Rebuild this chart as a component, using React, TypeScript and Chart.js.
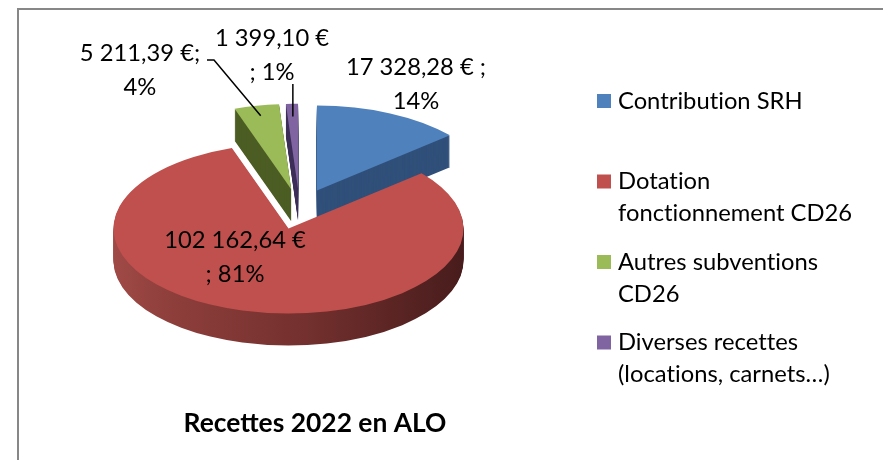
import React, { useEffect, useRef } from 'react';
import { Chart, registerables } from 'chart.js';

Chart.register(...registerables);

// ---------- data ----------
const categories: string[][] = [
  ['Contribution SRH'],
  ['Dotation', 'fonctionnement CD26'],
  ['Autres subventions', 'CD26'],
  ['Diverses recettes', '(locations, carnets…)'],
];
const values: number[] = [17328.28, 102162.64, 5211.39, 1399.1];
const valueLabels: string[][] = [
  ['17 328,28 € ;', '14%'],
  ['102 162,64 €', '; 81%'],
  ['5 211,39 €;', '4%'],
  ['1 399,10 €', '; 1%'],
];
const chartTitle = 'Recettes 2022 en ALO';

// ---------- styles ----------
const topColors = ['#4f81bd', '#c0504d', '#9bbb59', '#8064a2'];
const sideColors = ['#30507a', 'gradient', '#4c5d24', '#3e3059'];
const FONT = 'Lato, "Open Sans", sans-serif';

// projection of the pie (screen space)
const CX = 299.5;
const CY = 209;
const RX = 175;
const RY = 85;
const EXPLODE = 41.7;
const DEPTH = 32;

// label layout (first line centre) and line height
const labelPos: number[][] = [
  [416, 67],
  [235, 240],
  [140, 53],
  [272, 38],
];
const LABEL_LH = 34;

function fitSize(text: string, weight: string, target: number) {
  const c = document.createElement('canvas').getContext('2d')!;
  c.font = `${weight} 100px ${FONT}`;
  return (100 * target) / c.measureText(text).width;
}

function geom(arc: any) {
  const p = arc.getProps(['x', 'y', 'startAngle', 'endAngle', 'outerRadius'], true);
  const mid = (p.startAngle + p.endAngle) / 2;
  const sx = RX / p.outerRadius;
  const sy = RY / p.outerRadius;
  const ox = CX + EXPLODE * Math.cos(mid);
  const oy = CY + EXPLODE * (RY / RX) * Math.sin(mid);
  return { p, mid, sx, sy, ox, oy };
}

function drawSlice(ctx: CanvasRenderingContext2D, arc: any, fill: any, dy: number) {
  const { p, sx, sy, ox, oy } = geom(arc);
  ctx.save();
  ctx.translate(ox, oy + dy);
  ctx.scale(sx, sy);
  ctx.translate(-p.x, -p.y);
  let style = fill;
  if (fill === 'gradient') {
    const g = ctx.createLinearGradient(p.x - p.outerRadius, 0, p.x + p.outerRadius, 0);
    g.addColorStop(0, '#a04a47');
    g.addColorStop(0.15, '#8f3f3c');
    g.addColorStop(0.55, '#73302e');
    g.addColorStop(1, '#481c1c');
    style = g;
  }
  const proxy = Object.create(arc);
  proxy.options = { ...arc.options, backgroundColor: style, borderWidth: 0, offset: 0 };
  proxy.draw(ctx);
  ctx.restore();
}

function anchor(arc: any, k: number) {
  const { mid, ox, oy } = geom(arc);
  return [ox + RX * k * Math.cos(mid), oy + RY * k * Math.sin(mid)];
}

const makePlugin = (fontSize: number) => ({
  id: 'pie3d',
  beforeDraw(chart: any) {
    const ctx = chart.ctx;
    ctx.save();
    ctx.fillStyle = '#ffffff';
    ctx.fillRect(0, 0, chart.width, chart.height);
    ctx.strokeStyle = '#878787';
    ctx.lineWidth = 2;
    ctx.beginPath();
    ctx.moveTo(18, chart.height + 5);
    ctx.lineTo(18, 9);
    ctx.lineTo(chart.width + 5, 9);
    ctx.stroke();
    ctx.restore();
  },
  beforeDatasetsDraw(chart: any) {
    const ctx = chart.ctx;
    const arcs = chart.getDatasetMeta(0).data;
    const order = [0, 3, 2, 1];
    for (const i of order) {
      for (let d = DEPTH; d >= 1; d--) drawSlice(ctx, arcs[i], sideColors[i], d);
    }
    for (const i of order) drawSlice(ctx, arcs[i], topColors[i], 0);
    return false;
  },
  afterDraw(chart: any) {
    const ctx = chart.ctx;
    const arcs = chart.getDatasetMeta(0).data;
    ctx.save();
    // leader lines
    ctx.strokeStyle = '#000';
    ctx.lineWidth = 1.5;
    const ga = anchor(arcs[2], 0.88);
    ctx.beginPath();
    ctx.moveTo(207, 60);
    ctx.lineTo(214, 60);
    ctx.lineTo(ga[0], ga[1]);
    ctx.stroke();
    const pa = anchor(arcs[3], 0.85);
    ctx.beginPath();
    ctx.moveTo(pa[0], 84);
    ctx.lineTo(pa[0], pa[1]);
    ctx.stroke();
    // data labels
    ctx.fillStyle = '#000';
    ctx.font = `${fontSize}px ${FONT}`;
    (ctx as any).letterSpacing = '0.01px';
    ctx.textAlign = 'center';
    ctx.textBaseline = 'middle';
    valueLabels.forEach((lines, i) => {
      lines.forEach((t, j) => ctx.fillText(t, labelPos[i][0], labelPos[i][1] + j * LABEL_LH));
    });
    // legend
    ctx.textAlign = 'left';
    categories.forEach((lines, i) => {
      const y = 101 + i * 80.5;
      ctx.fillStyle = topColors[i];
      ctx.fillRect(597, y - 7, 14, 14);
      ctx.fillStyle = '#000';
      lines.forEach((t, j) => ctx.fillText(t, 618, y + j * 32));
    });
    ctx.restore();
  },
});

export default function App() {
  const ref = useRef<HTMLCanvasElement>(null);
  useEffect(() => {
    const fontSize = fitSize('Contribution SRH', 'normal', 185);
    const titleSize = fitSize(chartTitle, 'bold', 263);
    const chart = new Chart(ref.current!, {
      type: 'pie',
      data: {
        labels: categories.map((c) => c.join(' ')),
        datasets: [
          {
            data: values,
            backgroundColor: topColors,
            borderWidth: 0,
            hoverOffset: 0,
            radius: 100,
          } as any,
        ],
      },
      options: {
        responsive: false,
        animation: false,
        events: [],
        layout: { padding: { left: 17, right: 270, top: 20, bottom: 0 } },
        plugins: {
          legend: { display: false },
          tooltip: { enabled: false },
          title: {
            display: true,
            text: chartTitle,
            position: 'bottom',
            fullSize: false,
            color: '#000',
            font: { family: FONT, weight: 'bold', size: titleSize, lineHeight: 1.2 },
            padding: { top: 0, bottom: 37 - 0.6 * titleSize },
          },
        },
      } as any,
      plugins: [makePlugin(fontSize)],
    });
    return () => chart.destroy();
  }, []);
  return (
    <div style={{ position: 'absolute', left: 0, top: 0, width: 883, height: 460 }}>
      <canvas ref={ref} width={883} height={460} style={{ display: 'block' }} />
    </div>
  );
}
